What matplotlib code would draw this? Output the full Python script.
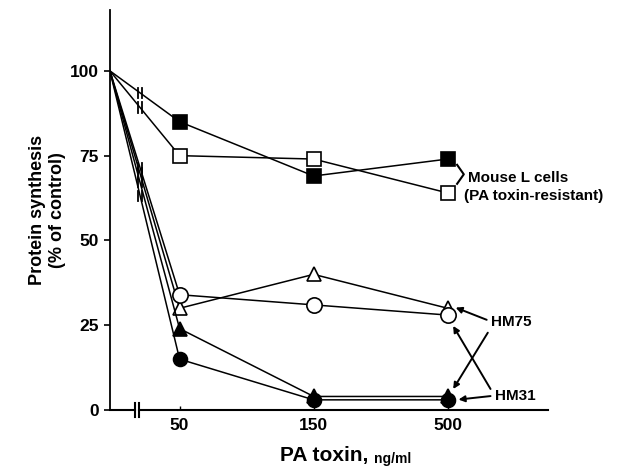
import matplotlib.pyplot as plt
import numpy as np

plt.rcParams['font.family'] = ['Liberation Sans', 'DejaVu Sans']
plt.rcParams['font.weight'] = 'bold'

doses = ["0", "50", "150", "500"]
xpos = [0, 0.52, 1.52, 2.52]   # axis is broken between 0 and 50

mouse_filled_sq = [100, 85, 69, 74]
mouse_open_sq = [100, 75, 74, 64]
hm75_open_tri = [100, 30, 40, 30]
hm75_open_circ = [100, 34, 31, 28]
hm31_filled_tri = [100, 24, 4, 4]
hm31_filled_circ = [100, 15, 3, 3]

series = [
    (mouse_filled_sq, 's', 'black', 10),
    (mouse_open_sq, 's', 'white', 10),
    (hm75_open_tri, '^', 'white', 10),
    (hm75_open_circ, 'o', 'white', 11),
    (hm31_filled_tri, '^', 'black', 10),
    (hm31_filled_circ, 'o', 'black', 10),
]

fig = plt.figure(figsize=(6.28, 4.67), dpi=100)
ax = fig.add_axes([0.175, 0.122, 0.698, 0.857])

brk = 0.225
for vals, mk, fc, ms in series:
    ax.plot(xpos, vals, '-', color='black', lw=1.1, marker=mk, mfc=fc,
            mec='black', mew=1.2, ms=ms, markevery=[1, 2, 3], zorder=3)
    yb = np.interp(brk, xpos, vals)
    for dx in (-0.017, 0.017):
        ax.plot([brk + dx, brk + dx], [yb - 1.5, yb + 1.5], color='black', lw=1.3)

ax.set_xlim(0, 3.27)
ax.set_ylim(0, 118)
ax.spines['top'].set_visible(False)
ax.spines['right'].set_visible(False)
ax.spines['bottom'].set_visible(False)
ax.spines['left'].set_linewidth(1.3)

# broken x axis
ax.plot([0, 0.19], [0, 0], color='black', lw=1.5, clip_on=False)
ax.plot([0.22, 3.27], [0, 0], color='black', lw=1.5, clip_on=False)
for xb in (0.19, 0.22):
    ax.plot([xb, xb], [-2, 2], color='black', lw=1.5, clip_on=False)

ax.set_yticks([0, 25, 50, 75, 100])
ax.set_yticklabels(['0', '25', '50', '75', '100'], fontsize=12.5, fontweight='bold')
ax.tick_params(axis='y', length=4, width=1.2, pad=4)
ax.set_xticks(xpos[1:])
ax.set_xticklabels(doses[1:], fontsize=12.5, fontweight='bold')
ax.tick_params(axis='x', length=3, width=1, direction='in', pad=6)

ax.set_ylabel('Protein synthesis\n(% of control)', fontsize=13,
              fontweight='bold', labelpad=3)
ax.text(1.93, -10.5, 'PA toxin,', fontsize=15, fontweight='bold',
        ha='right', va='top')
ax.text(1.97, -12.3, 'ng/ml', fontsize=10, fontweight='bold',
        ha='left', va='top')

# labels
ax.plot([2.59, 2.64, 2.59], [72.3, 69.5, 66.7], color='black', lw=1.5)
ax.text(2.67, 68.5, 'Mouse L cells', fontsize=11, fontweight='bold', va='center')
ax.text(2.64, 63.0, '(PA toxin-resistant)', fontsize=11, fontweight='bold',
        va='center')

ax.text(2.84, 26, 'HM75', fontsize=11, fontweight='bold', va='center')
ax.text(2.87, 4.2, 'HM31', fontsize=11, fontweight='bold', va='center')
arrow = dict(arrowstyle='-|>', color='black', lw=1.4, mutation_scale=9)
ax.annotate('', xy=(2.56, 30.5), xytext=(2.83, 26.3), arrowprops=arrow)
ax.annotate('', xy=(2.55, 5.5), xytext=(2.83, 23.5), arrowprops=arrow)
ax.annotate('', xy=(2.58, 3.0), xytext=(2.86, 4.2), arrowprops=arrow)
ax.annotate('', xy=(2.55, 25.5), xytext=(2.85, 5.5), arrowprops=arrow)

plt.savefig('out.png', dpi=100)
